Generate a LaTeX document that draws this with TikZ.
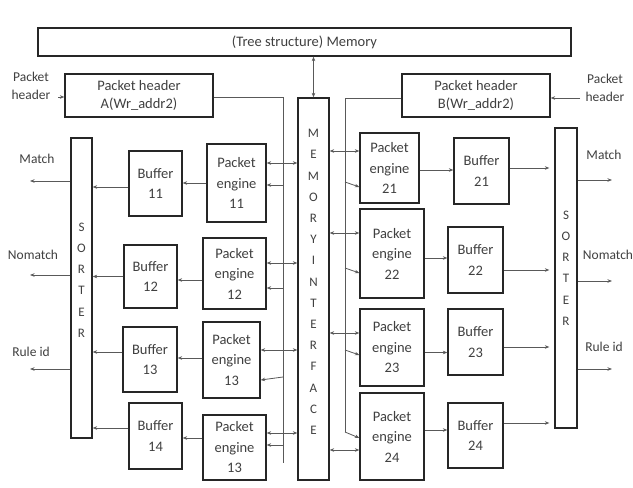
\documentclass[tikz,border=0pt]{standalone}
\usepackage{fontspec}
\setmainfont{Carlito}
\usetikzlibrary{arrows.meta,calc}
\begin{document}
\begin{tikzpicture}[x=1pt,y=-1pt,
  box/.style={draw=black!85,line width=1.3pt,inner sep=1pt,align=center,text=black!75,
    font=\fontsize{14.5}{20.5}\selectfont},
  vtext/.style={align=center,text=black!75,font=\fontsize{13}{21.2}\selectfont,inner sep=0pt},
  lbl/.style={text=black!75,font=\fontsize{13.5}{18}\selectfont,align=center,inner sep=0pt},
  conn/.style={draw=black!65,line width=0.8pt},
  arr/.style={conn,-{Stealth[length=4.5pt,width=3.5pt]}},
  darr/.style={conn,{Stealth[length=4.5pt,width=3.5pt]}-{Stealth[length=4.5pt,width=3.5pt]}}]
\useasboundingbox (0,0) rectangle (633,488);
\fill[white] (0,0) rectangle (633,488);
% main boxes
\node[box,minimum width=533pt,minimum height=28pt] (mem) at (304.5,42) {(Tree structure) Memory};
\node[box,minimum width=148pt,minimum height=43pt] (hA) at (139,95.5) {Packet header\\[-3pt]A(Wr\_addr2)};
\node[box,minimum width=148pt,minimum height=43pt] (hB) at (476,95.5) {Packet header\\[-3pt]B(Wr\_addr2)};
\node[box,minimum width=31pt,minimum height=382pt] (mi) at (313.5,289) {};
\node[vtext] (mit) at (313.5,282) {M\\E\\M\\O\\R\\Y\\I\\N\\T\\E\\R\\F\\A\\C\\E};
\node[box,minimum width=21pt,minimum height=300pt] (ls) at (81.5,288) {};
\node[vtext] (lst) at (81.5,280) {S\\O\\R\\T\\E\\R};
\node[box,minimum width=22pt,minimum height=300pt] (rs) at (566,278) {};
\node[vtext] (rst) at (566,268) {S\\O\\R\\T\\E\\R};
% left engines and buffers
\node[box,minimum width=59pt,minimum height=78pt] (e11) at (236.5,183) {Packet\\engine\\11};
\node[box,minimum width=63pt,minimum height=71pt] (e12) at (234.5,273.5) {Packet\\engine\\12};
\node[box,minimum width=57pt,minimum height=76pt] (e13) at (231.5,360) {Packet\\engine\\13};
\node[box,minimum width=63pt,minimum height=65pt] (e14) at (234.5,447.5) {Packet\\engine\\13};
\node[box,minimum width=53pt,minimum height=65pt] (b11) at (155.5,183.5) {Buffer\\11};
\node[box,minimum width=53pt,minimum height=63pt] (b12) at (150.5,276.5) {Buffer\\12};
\node[box,minimum width=54pt,minimum height=65pt] (b13) at (150,359.5) {Buffer\\13};
\node[box,minimum width=53pt,minimum height=66pt] (b14) at (155.5,436) {Buffer\\14};
% right engines and buffers
\node[box,minimum width=59pt,minimum height=70pt] (e21) at (389.5,168) {Packet\\engine\\21};
\node[box,minimum width=64pt,minimum height=89pt] (e22) at (392,253.5) {Packet\\engine\\22};
\node[box,minimum width=64pt,minimum height=77pt] (e23) at (392,347.5) {Packet\\engine\\23};
\node[box,minimum width=64pt,minimum height=87pt] (e24) at (392,436.5) {Packet\\engine\\24};
\node[box,minimum width=55pt,minimum height=66pt] (b21) at (481.5,171) {Buffer\\21};
\node[box,minimum width=55pt,minimum height=66pt] (b22) at (475.5,260) {Buffer\\22};
\node[box,minimum width=55pt,minimum height=66pt] (b23) at (475.5,342) {Buffer\\23};
\node[box,minimum width=55pt,minimum height=65pt] (b24) at (475.5,435.5) {Buffer\\24};
% labels
\node[lbl] (inA) at (31,86) {Packet\\header};
\node[lbl] (inB) at (605,88) {Packet\\header};
\node[lbl] (lm) at (37,159) {Match};
\node[lbl] (ln) at (33,255) {Nomatch};
\node[lbl] (lr) at (31,352) {Rule id};
\node[lbl] (rm) at (604,155) {Match};
\node[lbl] (rn) at (608,255) {Nomatch};
\node[lbl] (rr) at (604,347) {Rule id};
% free end coordinates
\coordinate (inAe) at (58,97);
\coordinate (inBe) at (580,98);
\coordinate (oLm) at (30,181);
\coordinate (oLn) at (30,275);
\coordinate (oLr) at (30,369);
\coordinate (oRm) at (612,180);
\coordinate (oRn) at (612,281);
\coordinate (oRr) at (612,369);
\coordinate (aT) at (283,97);
\coordinate (aB) at (283,463);
\coordinate (bT) at (345,98);
\coordinate (bB) at (345,432);
% memory <-> interface
\draw[darr] (mem.south -| mi) -- (mi.north);
% inputs
\draw[arr] (inAe) -- (hA.west |- inAe);
\draw[arr] (inBe) -- (hB.east |- inBe);
% bus A
\draw[conn] (hA.east |- aT) -- (aT) -- (aB);
\draw[arr] ([yshift=-2pt]e11.east -| aT) -- ([yshift=-2pt]e11.east);
\draw[arr] ([yshift=-14.5pt]e12.east -| aT) -- ([yshift=-14.5pt]e12.east);
\draw[arr] ([yshift=-17pt]e13.east -| aT) -- ([yshift=-20pt]e13.east);
\draw[arr] ([yshift=2.5pt]e14.east -| aT) -- ([yshift=2.5pt]e14.east);
% bus B
\draw[conn] (hB.west |- bT) -- (bT) -- (bB);
\draw[arr] ([yshift=-14pt]e21.west -| bT) -- ([yshift=-19pt]e21.west);
\draw[arr] ([yshift=-14.5pt]e22.west -| bT) -- ([yshift=-19.5pt]e22.west);
\draw[arr] ([yshift=-2.5pt]e23.west -| bT) -- ([yshift=-7.5pt]e23.west);
\draw[arr] ([yshift=4.5pt]e24.west -| bT) -- ([yshift=-1.5pt]e24.west);
% memory interface <-> engines
\draw[darr] ([yshift=20pt]e11.east) -- ([yshift=20pt]e11.east -| mi.west);
\draw[darr] ([yshift=10.5pt]e12.east) -- ([yshift=10.5pt]e12.east -| mi.west);
\draw[darr] ([yshift=10pt]e13.east) -- ([yshift=10pt]e13.east -| mi.west);
\draw[darr] ([yshift=14.5pt]e14.east) -- ([yshift=14.5pt]e14.east -| mi.west);
\draw[darr] ([yshift=17pt]e21.west -| mi.east) -- ([yshift=17pt]e21.west);
\draw[darr] ([yshift=20.5pt]e22.west -| mi.east) -- ([yshift=20.5pt]e22.west);
\draw[darr] ([yshift=14.5pt]e23.west -| mi.east) -- ([yshift=14.5pt]e23.west);
\draw[darr] ([yshift=-13.5pt]e24.west -| mi.east) -- ([yshift=-13.5pt]e24.west);
% left engines -> buffers -> sorter
\draw[arr] (e11.west) -- (e11.west -| b11.east);
\draw[arr] ([yshift=-6.5pt]e12.west) -- ([yshift=-6.5pt]e12.west -| b12.east);
\draw[arr] ([yshift=2pt]e13.west) -- ([yshift=2pt]e13.west -| b13.east);
\draw[arr] ([yshift=9.5pt]e14.west) -- ([yshift=9.5pt]e14.west -| b14.east);
\draw[arr] ([yshift=-3.5pt]b11.west) -- ([yshift=-3.5pt]b11.west -| ls.east);
\draw[arr] (b12.west) -- (b12.west -| ls.east);
\draw[arr] ([yshift=7.5pt]b13.west) -- ([yshift=7.5pt]b13.west -| ls.east);
\draw[arr] ([yshift=8pt]b14.west) -- ([yshift=8pt]b14.west -| ls.east);
% right engines -> buffers -> sorter
\draw[arr] ([yshift=-2pt]e21.east) -- ([yshift=-2pt]e21.east -| b21.west);
\draw[arr] ([yshift=-4.5pt]e22.east) -- ([yshift=-4.5pt]e22.east -| b22.west);
\draw[arr] ([yshift=-5pt]e23.east) -- ([yshift=-5pt]e23.east -| b23.west);
\draw[arr] ([yshift=6.5pt]e24.east) -- ([yshift=6.5pt]e24.east -| b24.west);
\draw[arr,shorten >=5pt] ([yshift=3pt]b21.east) -- ([yshift=3pt]b21.east -| rs.west);
\draw[arr,shorten >=5pt] ([yshift=-10pt]b22.east) -- ([yshift=-10pt]b22.east -| rs.west);
\draw[arr,shorten >=5pt] ([yshift=-5pt]b23.east) -- ([yshift=-5pt]b23.east -| rs.west);
\draw[arr,shorten >=5pt] ([yshift=12.5pt]b24.east) -- ([yshift=12.5pt]b24.east -| rs.west);
% sorter outputs
\draw[arr] (ls.west |- oLm) -- (oLm);
\draw[arr] (ls.west |- oLn) -- (oLn);
\draw[arr] (ls.west |- oLr) -- (oLr);
\draw[arr] (rs.east |- oRm) -- (oRm);
\draw[arr] (rs.east |- oRn) -- (oRn);
\draw[arr] (rs.east |- oRr) -- (oRr);
\end{tikzpicture}
\end{document}
